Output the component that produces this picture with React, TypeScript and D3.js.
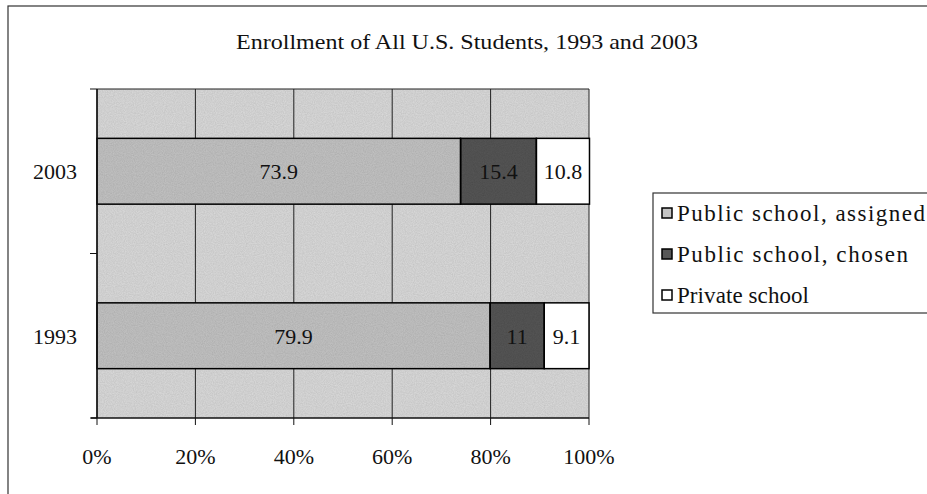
import React from "react";
import * as d3 from "d3";

const years = ["2003", "1993"];
const seriesNames = ["Public school, assigned", "Public school, chosen", "Private school"];
const assigned = [73.9, 79.9];
const chosen = [15.4, 11];
const privateSchool = [10.8, 9.1];
const xTicks = [0, 20, 40, 60, 80, 100];
const title = "Enrollment of All U.S. Students, 1993 and 2003";

const W = 927;
const H = 494;
const FONT = "'Liberation Serif', 'Times New Roman', serif";
const fills = ["#c4c4c4", "#575757", "#ffffff"];
const legendLengths = [248, 231, 132];

export default function App() {
  const plot = { left: 97, right: 589, top: 89, bottom: 418 };
  const x = d3.scaleLinear().domain([0, 100]).range([plot.left, plot.right]);
  const y = d3.scaleBand().domain(years).range([plot.top, plot.bottom]).paddingInner(0.6).paddingOuter(0.3);
  const yBand = d3.scaleBand().domain(years).range([plot.top, plot.bottom]);

  const rows = years.map((yr, i) => ({ yr, vals: [assigned[i], chosen[i], privateSchool[i]] }));
  const stack = d3.stack<number[]>().keys(["0", "1", "2"]).value((d, k) => d[+k]);
  const stacked = stack(rows.map((r) => r.vals));

  const legendY = [213, 254, 295];
  const txt = { fontFamily: FONT, fill: "#111" } as React.CSSProperties;

  return (
    <svg width={W} height={H} style={{ position: "absolute", left: 0, top: 0, background: "#fff" }}>
      <defs>
        <filter id="noise" x="0" y="0" width="100%" height="100%">
          <feTurbulence type="fractalNoise" baseFrequency="0.9" numOctaves="2" seed="3" result="t" />
          <feColorMatrix in="t" type="matrix" values="0 0 0 0 0  0 0 0 0 0  0 0 0 0 0  0 0 0 0.25 0" result="n" />
          <feComposite in="n" in2="SourceGraphic" operator="in" result="m" />
          <feMerge>
            <feMergeNode in="SourceGraphic" />
            <feMergeNode in="m" />
          </feMerge>
        </filter>
      </defs>
      <rect x={8} y={6} width={W} height={H} fill="none" stroke="#333" strokeWidth={1.2} />
      <text x={467} y={49} textAnchor="middle" style={{ ...txt, fontSize: 22 }} textLength={462} lengthAdjust="spacingAndGlyphs">
        {title}
      </text>

      {/* plot background */}
      <rect x={plot.left} y={plot.top} width={plot.right - plot.left} height={plot.bottom - plot.top} fill="#dcdcdc" filter="url(#noise)" />
      {/* gridlines */}
      {xTicks.map((t) => (
        <line key={"g" + t} x1={x(t)} x2={x(t)} y1={plot.top} y2={plot.bottom} stroke="#222" strokeWidth={1} />
      ))}
      <line x1={plot.left} x2={plot.right} y1={plot.top} y2={plot.top} stroke="#222" strokeWidth={1.2} />

      {/* bars */}
      {stacked.map((layer, si) =>
        layer.map((seg, ri) => (
          <rect
            key={si + "-" + ri}
            x={x(seg[0])}
            y={y(years[ri])!}
            width={x(seg[1]) - x(seg[0])}
            height={y.bandwidth()}
            fill={fills[si]}
            filter={si < 2 ? "url(#noise)" : undefined}
          />
        ))
      )}
      {stacked.map((layer, si) =>
        layer.map((seg, ri) => (
          <rect
            key={"o" + si + "-" + ri}
            x={x(seg[0])}
            y={y(years[ri])!}
            width={x(seg[1]) - x(seg[0])}
            height={y.bandwidth()}
            fill="none"
            stroke="#000"
            strokeWidth={1.5}
          />
        ))
      )}
      {/* data labels */}
      {stacked.map((layer, si) =>
        layer.map((seg, ri) => (
          <text
            key={"l" + si + "-" + ri}
            x={x((seg[0] + seg[1]) / 2)}
            y={y(years[ri])! + y.bandwidth() / 2 + 8}
            textAnchor="middle"
            style={{ ...txt, fontSize: 22 }}
          >
            {String(rows[ri].vals[si])}
          </text>
        ))
      )}

      {/* axes */}
      <line x1={plot.left} x2={plot.left} y1={plot.top} y2={plot.bottom} stroke="#111" strokeWidth={1.5} />
      <line x1={plot.left - 6} x2={plot.right} y1={plot.bottom} y2={plot.bottom} stroke="#111" strokeWidth={1.5} />
      {[plot.top, yBand(years[1])!, plot.bottom].map((v, i) => (
        <line key={"yt" + i} x1={plot.left - 7} x2={plot.left} y1={v} y2={v} stroke="#111" strokeWidth={1} />
      ))}
      {xTicks.map((t) => (
        <g key={"xt" + t}>
          <line x1={x(t)} x2={x(t)} y1={plot.bottom} y2={plot.bottom + 7} stroke="#111" strokeWidth={1} />
          <text x={x(t)} y={plot.bottom + 46} textAnchor="middle" style={{ ...txt, fontSize: 22 }}>
            {t + "%"}
          </text>
        </g>
      ))}
      {years.map((yr) => (
        <text key={"yl" + yr} x={55} y={yBand(yr)! + yBand.bandwidth() / 2 + 8} textAnchor="middle" style={{ ...txt, fontSize: 22 }}>
          {yr}
        </text>
      ))}

      {/* legend */}
      <rect x={653} y={193} width={300} height={120} fill="#fff" stroke="#333" strokeWidth={1.2} />
      {seriesNames.map((n, i) => (
        <g key={"lg" + i}>
          <rect x={662} y={legendY[i] - 5} width={10} height={10} fill={fills[i]} stroke="#000" strokeWidth={1.5} />
          <text x={677} y={legendY[i] + 8} style={{ ...txt, fontSize: 23 }} textLength={legendLengths[i]} lengthAdjust="spacing">
            {n}
          </text>
        </g>
      ))}
    </svg>
  );
}
